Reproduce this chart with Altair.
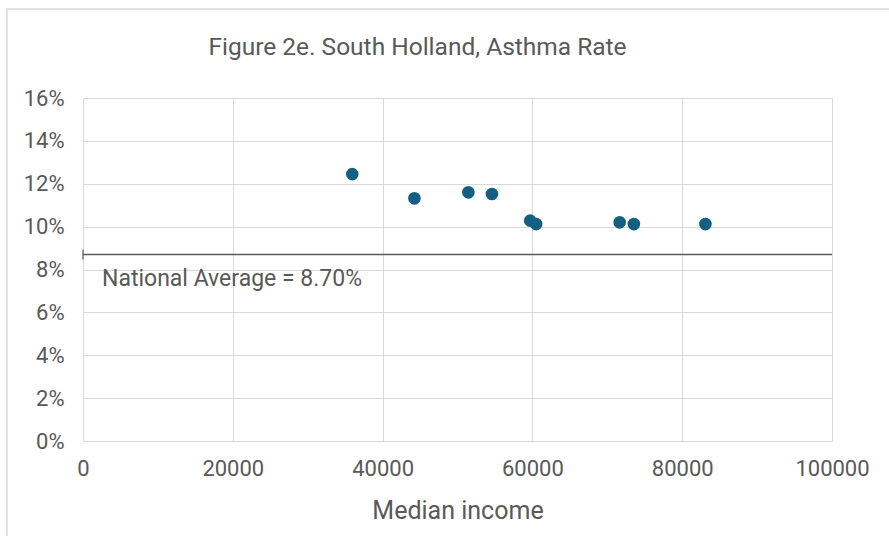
import altair as alt
import pandas as pd

# Median household income and asthma prevalence for South Holland areas
median_income = [35950, 44250, 51450, 54600, 59700, 60500, 71650, 73550, 83100]
asthma_rate = [0.1245, 0.1132, 0.1160, 0.1152, 0.1028, 0.1012, 0.1020, 0.1012, 0.1012]

national_average = 0.087
avg_label = "National Average = 8.70%"

x_ticks = [0, 20000, 40000, 60000, 80000, 100000]
y_ticks = [0, 0.02, 0.04, 0.06, 0.08, 0.10, 0.12, 0.14, 0.16]

FONT = "Roboto"
GREY = "#595959"
GRID = "#d9d9d9"
BLUE = "#156082"

points = pd.DataFrame({"income": median_income, "rate": asthma_rate})
avg = pd.DataFrame({"x0": [0], "x1": [100000], "y": [national_average], "label": [avg_label]})

x_scale = alt.Scale(domain=[0, 100000], nice=False, zero=True)
y_scale = alt.Scale(domain=[0, 0.16], nice=False)

x_enc = alt.X(
    "income:Q",
    scale=x_scale,
    title="Median income",
    axis=alt.Axis(values=x_ticks, format="d", grid=True, ticks=False,
                  labelFlush=False, labelOverlap=False,
                  domainColor=GRID, gridColor=GRID, labelPadding=17,
                  titlePadding=19),
)
y_enc = alt.Y(
    "rate:Q",
    scale=y_scale,
    title=None,
    axis=alt.Axis(values=y_ticks, format=".0%", grid=True, ticks=False,
                  domain=False, gridColor=GRID, labelPadding=19),
)

scatter = alt.Chart(points).mark_circle(size=160, opacity=1, color=BLUE).encode(
    x=x_enc, y=y_enc
)

avg_line = alt.Chart(avg).mark_rule(color=GREY, strokeWidth=1.7).encode(
    x=alt.X("x0:Q", scale=x_scale),
    x2="x1:Q",
    y=alt.Y("y:Q", scale=y_scale),
)

# small cap at the left end of the average line
avg_cap = alt.Chart(avg).transform_calculate(
    y_lo="datum.y - 0.0023", y_hi="datum.y + 0.0023"
).mark_rule(color=GREY, strokeWidth=1.2).encode(
    x=alt.X("x0:Q", scale=x_scale),
    y=alt.Y("y_lo:Q", scale=y_scale),
    y2="y_hi:Q",
)

avg_text = alt.Chart(avg).mark_text(
    align="left", baseline="middle", dx=19, dy=25,
    font=FONT, fontSize=23, color=GREY,
).encode(
    x=alt.X("x0:Q", scale=x_scale),
    y=alt.Y("y:Q", scale=y_scale),
    text="label:N",
)

# outer chart frame
frame = alt.Chart(pd.DataFrame({"k": [0]})).mark_rect(
    fill=None, stroke=GRID, strokeWidth=1.5
).encode(
    x=alt.value(-76), x2=alt.value(900), y=alt.value(-89), y2=alt.value(600)
)

chart = alt.layer(frame, scatter, avg_line, avg_cap, avg_text).properties(
    width=749,
    height=343,
    autosize=alt.AutoSizeParams(type="none"),
    padding={"left": 83, "top": 98, "right": 57, "bottom": 95},
    title=alt.TitleParams(
        "Figure 2e. South Holland, Asthma Rate",
        anchor="middle", frame="group", dx=-40, offset=-52,
        font=FONT, fontSize=24.5, fontWeight="normal", color=GREY,
    ),
).configure_axis(
    labelFont=FONT, labelFontSize=22, labelColor=GREY,
    titleFont=FONT, titleFontSize=25, titleColor=GREY, titleFontWeight="normal",
).configure_view(stroke=None)

chart.save("out.html", embed_options={"renderer": "svg", "actions": False})
